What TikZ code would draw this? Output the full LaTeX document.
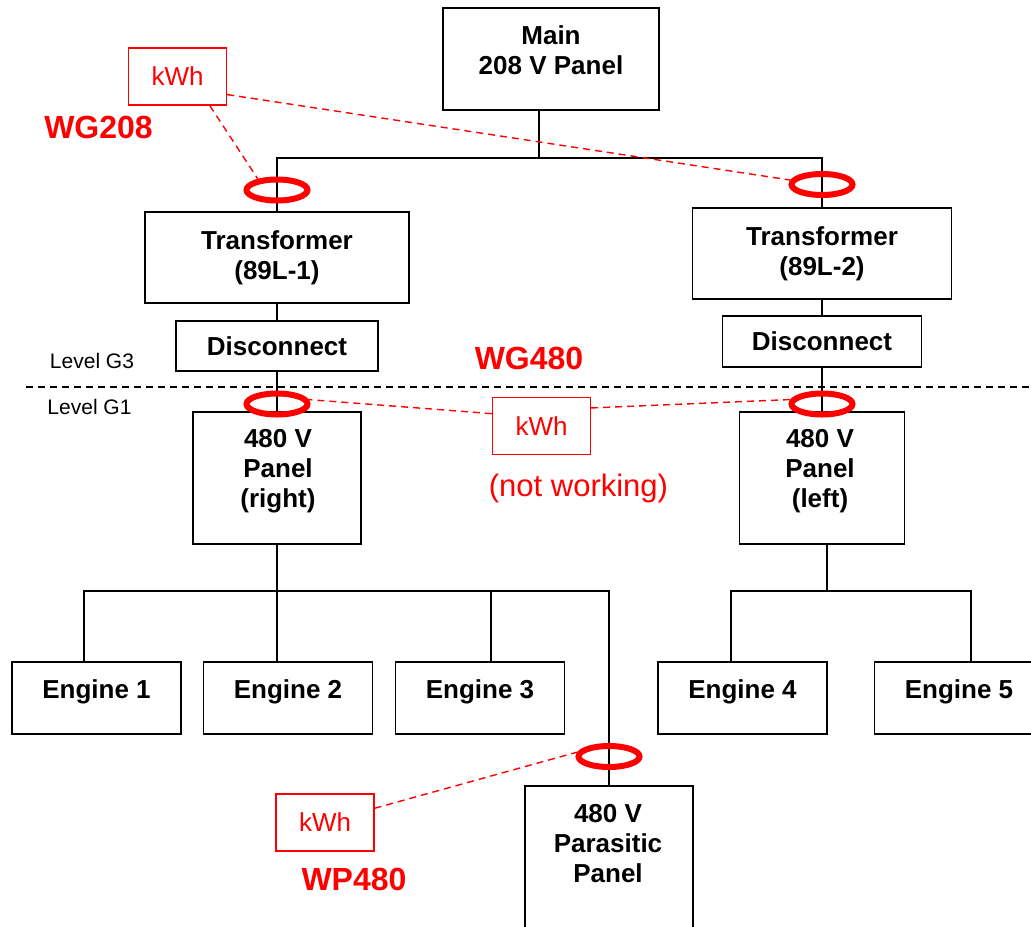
\documentclass[tikz,border=0pt]{standalone}
\usepackage{fontspec}
\setmainfont{Liberation Sans}
\usetikzlibrary{shapes.geometric}

\tikzset{
  box/.style={draw, line width=0.8pt, inner sep=0pt, align=center,
    font=\fontsize{13}{15}\selectfont\bfseries},
  txt/.style={inner sep=0pt, align=center, font=\fontsize{13}{15}\selectfont\bfseries},
  wire/.style={line width=0.75pt},
  meter/.style={draw=red, text=red, line width=0.6pt, minimum width=49pt,
    minimum height=28.5pt, font=\fontsize{13}{15}\selectfont},
  ct/.style={draw=red, ellipse, line width=3pt, minimum width=30.5pt,
    minimum height=10.5pt, inner sep=0pt},
  tag/.style={text=red, inner sep=0pt, font=\fontsize{16}{18}\selectfont\bfseries},
  link/.style={red, line width=0.7pt, dash pattern=on 3.5pt off 2.5pt},
  lvl/.style={inner sep=0pt, font=\fontsize{10.5}{12}\selectfont}
}

\begin{document}
\begin{tikzpicture}[x=0.5pt,y=-0.5pt]
\useasboundingbox (0,0) rectangle (1031,926);
\clip (0,0) rectangle (1031,926);

% 208 V side
\node[box, minimum width=108pt, minimum height=51pt] (main) at (551,59) {};
\node[txt] (main-t) at (551,50) {Main\\208 V Panel};

\node[box, minimum width=132pt, minimum height=45.5pt] (trA) at (277,257.5) {Transformer\\(89L-1)};
\node[box, minimum width=129.5pt, minimum height=45.5pt] (trB) at (822,253.5) {Transformer\\(89L-2)};
\node[box, minimum width=101pt, minimum height=25pt] (discA) at (277,346) {Disconnect};
\node[box, minimum width=99.5pt, minimum height=25.5pt] (discB) at (822,341.5) {Disconnect};

% level break between G3 and G1
\draw[line width=0.7pt, dash pattern=on 3.5pt off 2.5pt] (26,387) -- (1031,387);
\node[lvl] (g3) at (92,361) {Level G3};
\node[lvl] (g1) at (89.5,407) {Level G1};

% 480 V panels
\node[box, minimum width=84pt, minimum height=66pt] (panR) at (277,478) {};
\node[txt] (panR-t) at (278,471.5) {480 V\\Panel\\(right)};
\node[box, minimum width=82.5pt, minimum height=66pt] (panL) at (822,478) {};
\node[txt] (panL-t) at (820,471.5) {480 V\\Panel\\(left)};

\node[box, minimum width=84pt, minimum height=85pt] (par) at (609,871) {};
\node[txt] (par-t) at (608,843.5) {480 V\\Parasitic\\Panel};

\foreach \n/\x in {1/96.5,2/288,3/480,4/742.5,5/959}
{
  \node[box, minimum width=84.5pt, minimum height=36pt] (e\n) at (\x,698) {};
  \node[txt, anchor=base] (e\n-t) at (\x,698) {Engine \n};
};

% wiring
\coordinate (busT) at (539,158);
\draw[wire] (main.south -| busT) -- (busT);
\draw[wire] (trA.north) |- (busT) -| (trB.north);
\draw[wire] (trA) -- (discA) -- (panR);
\draw[wire] (trB) -- (discB) -- (panL);

\coordinate (busR) at (277,591);
\draw[wire] (panR) -- (busR);
\draw[wire] ([xshift=-6.25pt]e1.north) |- (busR) -| (par.north);
\draw[wire] (e2.north -| busR) -- (busR);
\draw[wire] ([xshift=5.5pt]e3.north) -- ([xshift=5.5pt]e3.north |- busR);

\coordinate (busL) at (827,591);
\draw[wire] (panL.south -| busL) -- (busL);
\draw[wire] ([xshift=-5.75pt]e4.north) |- (busL) -| ([xshift=6pt]e5.north);

% current transformers
\node[ct] (ctA) at (277,190) {};
\node[ct] (ctB) at (822,184.5) {};
\node[ct] (ctC) at (277,404) {};
\node[ct] (ctD) at (822,404) {};
\node[ct] (ctE) at (609,756.5) {};

% meters
\node[meter] (kwhA) at (177.5,76.5) {kWh};
\node[meter] (kwhM) at (541.5,426) {kWh};
\node[meter] (kwhP) at (325,822.5) {kWh};

\draw[link] (kwhA.-42) -- (ctA.150);
\draw[link] (kwhA.-20) -- (ctB.172);
\draw[link] (kwhM.166) -- (ctC.8);
\draw[link] (kwhM.20) -- (ctD.172);
\draw[link] (kwhP.16) -- (ctE.172);

\node[tag] (wg208) at (98.5,127.5) {WG208};
\node[tag] (wg480) at (529,358) {WG480};
\node[tag] (wp480) at (354,879) {WP480};
\node[text=red, inner sep=0pt, font=\fontsize{15.5}{18}\selectfont] (nw) at (578.5,488) {(not working)};
\end{tikzpicture}
\end{document}
